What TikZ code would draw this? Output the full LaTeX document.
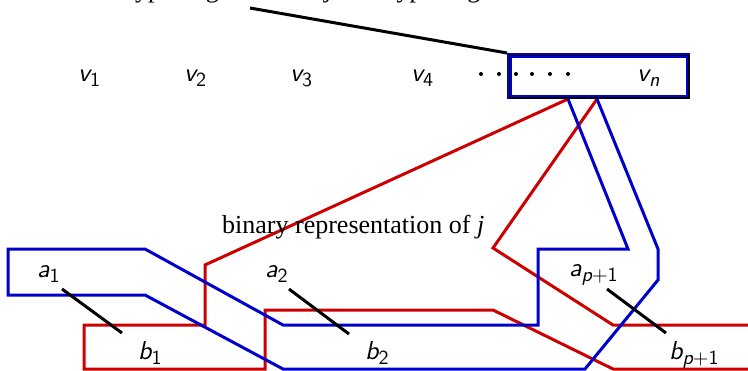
\documentclass[tikz,border=0pt]{standalone}
\usepackage{fontspec}
\setmainfont{Liberation Serif}
\newfontfamily\lblfont{lmsans10-regular.otf}[ItalicFont=lmsans10-oblique.otf]
\definecolor{mred}{RGB}{205,0,0}
\definecolor{mblue}{RGB}{0,0,205}
\newcommand\lbl[2]{{\lblfont\fontsize{26}{26}\selectfont\itshape #1}{\lblfont\fontsize{20}{20}\selectfont\raisebox{-5pt}{#2}}}
\begin{document}
\begin{tikzpicture}[x=1pt,y=-1pt,line join=miter]
\tikzset{
  redline/.style={draw=mred,line width=3pt},
  blueline/.style={draw=mblue,line width=3pt},
  conn/.style={draw=black,line width=3pt},
  lab/.style={inner sep=0pt,anchor=base west},
  serif/.style={font=\fontsize{26}{28}\selectfont,inner sep=0pt,anchor=base west},
  vboxst/.style={draw=mblue,line width=4.5pt,fill=white,minimum width=178.5pt,minimum height=41.5pt,inner sep=0pt},
}
\useasboundingbox (0,0) rectangle (748,370);
% top text (mostly outside the picture)
\node[serif] (top) at (122,-2.5) {hyperedge labelled \textit{j} and hyperedge};
\coordinate (tl) at (250,8);
% red tube
\coordinate (r1) at (568,99);
\coordinate (r2) at (597,99);
\draw[redline] (r1) -- (205,265) -- (205,325) -- (84,325) -- (84,369) -- (265,369) -- (265,310) -- (493,310) -- (613,369) -- (760,369);
\draw[redline] (r2) -- (493,248) -- (613,325) -- (760,325);
% blue tube
\draw[blueline] (r1) -- (628,249) -- (538,249) -- (538,325) -- (283,325) -- (145,249) -- (8,249) -- (8,295) -- (145,295) -- (283,369) -- (585,369) -- (658,280) -- (658,249) -- (r2);
% box
\node[vboxst] (vbox) at (598.5,76) {};
\draw[black,line width=1.2pt] ([shift={(2.8,2.8)}]vbox.north west) rectangle ([shift={(-1,-1)}]vbox.south east);
\draw[conn] (tl) -- (vbox.north west);
\foreach \x in {481,499,516,532,550,568} \fill (\x,74) circle (2);
% labels
\node[lab] (v1) at (78,81) {\lbl{v}{1}};
\node[lab] (v2) at (184,81) {\lbl{v}{2}};
\node[lab] (v3) at (290,81) {\lbl{v}{3}};
\node[lab] (v4) at (411,81) {\lbl{v}{4}};
\node[lab] (vn) at (637,81) {\lbl{v}{\itshape n}};
\node[serif] (bin) at (222,233) {binary representation of \textit{j}};
\node[lab] (a1) at (37,277) {\lbl{a}{1}};
\node[lab] (a2) at (265,277) {\lbl{a}{2}};
\node[lab] (ap) at (569,276) {\lbl{a}{\itshape p\upshape+1}};
\node[lab] (b1) at (138,359) {\lbl{b}{1}};
\node[lab] (b2) at (365,359) {\lbl{b}{2}};
\node[lab] (bp) at (669,359) {\lbl{b}{\itshape p\upshape+1}};
% a-b connectors
\coordinate (a1e) at (62,289); \coordinate (b1e) at (122,333);
\coordinate (a2e) at (289,289); \coordinate (b2e) at (349,334);
\coordinate (ape) at (607,289); \coordinate (bpe) at (666,333);
\draw[conn] (a1e) -- (b1e);
\draw[conn] (a2e) -- (b2e);
\draw[conn] (ape) -- (bpe);
\end{tikzpicture}
\end{document}
